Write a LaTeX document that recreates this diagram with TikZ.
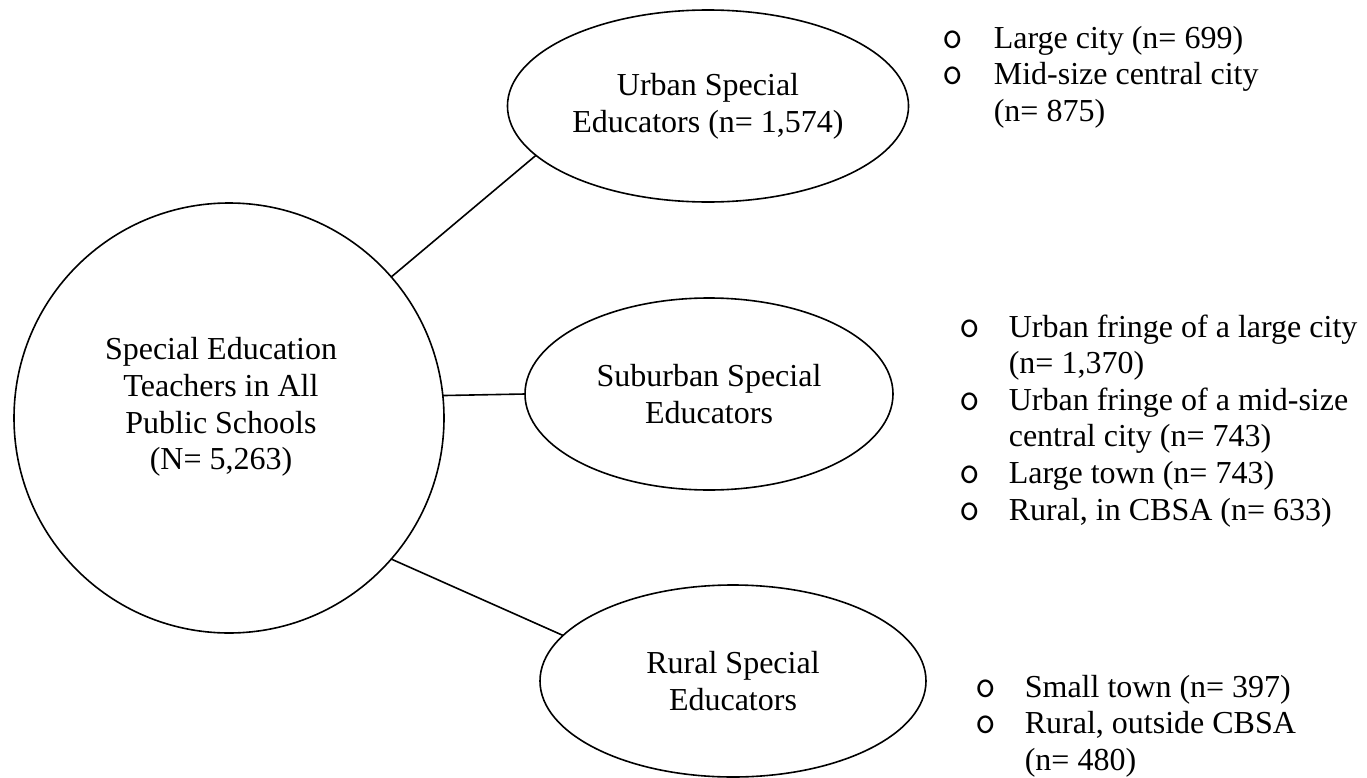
\documentclass[tikz,border=0pt]{standalone}
\usepackage{fontspec}
\setmainfont{Liberation Serif}
\usetikzlibrary{shapes.geometric}

\begin{document}
\begin{tikzpicture}[x=0.375pt,y=-0.375pt,line width=0.6pt,
    font=\fontsize{12}{13.8}\selectfont,
    group/.style={ellipse,draw,inner sep=0pt,outer sep=0pt,align=center,minimum height=72pt},
    item/.style={anchor=base west,inner sep=0pt},
    dot/.style={anchor=base,inner sep=0pt,font=\ttfamily\fontsize{15}{15}\selectfont}]
    \useasboundingbox (0,0) rectangle (1367,778);
    % all teachers
    \node[circle,draw,inner sep=0pt,outer sep=0pt,minimum size=161.25pt] (root) at (229,418) {};
    \node[align=center,inner sep=0pt] (rootlabel) at (221,407) {Special Education\\Teachers in All\\Public Schools\\(N= 5,263)};
    % locale groups
    \node[group,minimum width=150.4pt] (urban) at (708,106) {Urban Special\\Educators (n= 1,574)};
    \node[group,minimum width=138pt] (suburb) at (709,394) {Suburban Special\\Educators};
    \node[group,minimum width=144.75pt] (rural) at (733,681) {Rural Special\\Educators};
    \draw (root.41) -- (urban.196);
    \draw (root.6) -- (suburb.west);
    \draw (root.-41) -- (rural.165);
    % urban list
    \foreach \y [count=\i] in {48,84.8} \node[dot] (ub\i) at (953,\y) {o};
    \foreach \y/\t [count=\i] in {48/{Large city (n= 699)},84.8/{Mid-size central city},121.6/{(n= 875)}}
      \node[item] (ut\i) at (993,\y) {\t};
    % suburban list
    \foreach \y [count=\i] in {337,410.2,483.4,520} \node[dot] (sb\i) at (970,\y) {o};
    \foreach \y/\t [count=\i] in {337/{Urban fringe of a large city},373.6/{(n= 1,370)},
        410.2/{Urban fringe of a mid-size},446.8/{central city (n= 743)},
        483.4/{Large town (n= 743)},520/{Rural, in CBSA (n= 633)}}
      \node[item] (st\i) at (1008,\y) {\t};
    % rural list
    \foreach \y [count=\i] in {697,733.6} \node[dot] (rb\i) at (986,\y) {o};
    \foreach \y/\t [count=\i] in {697/{Small town (n= 397)},733.6/{Rural, outside CBSA},770.2/{(n= 480)}}
      \node[item] (rt\i) at (1024,\y) {\t};
\end{tikzpicture}
\end{document}
